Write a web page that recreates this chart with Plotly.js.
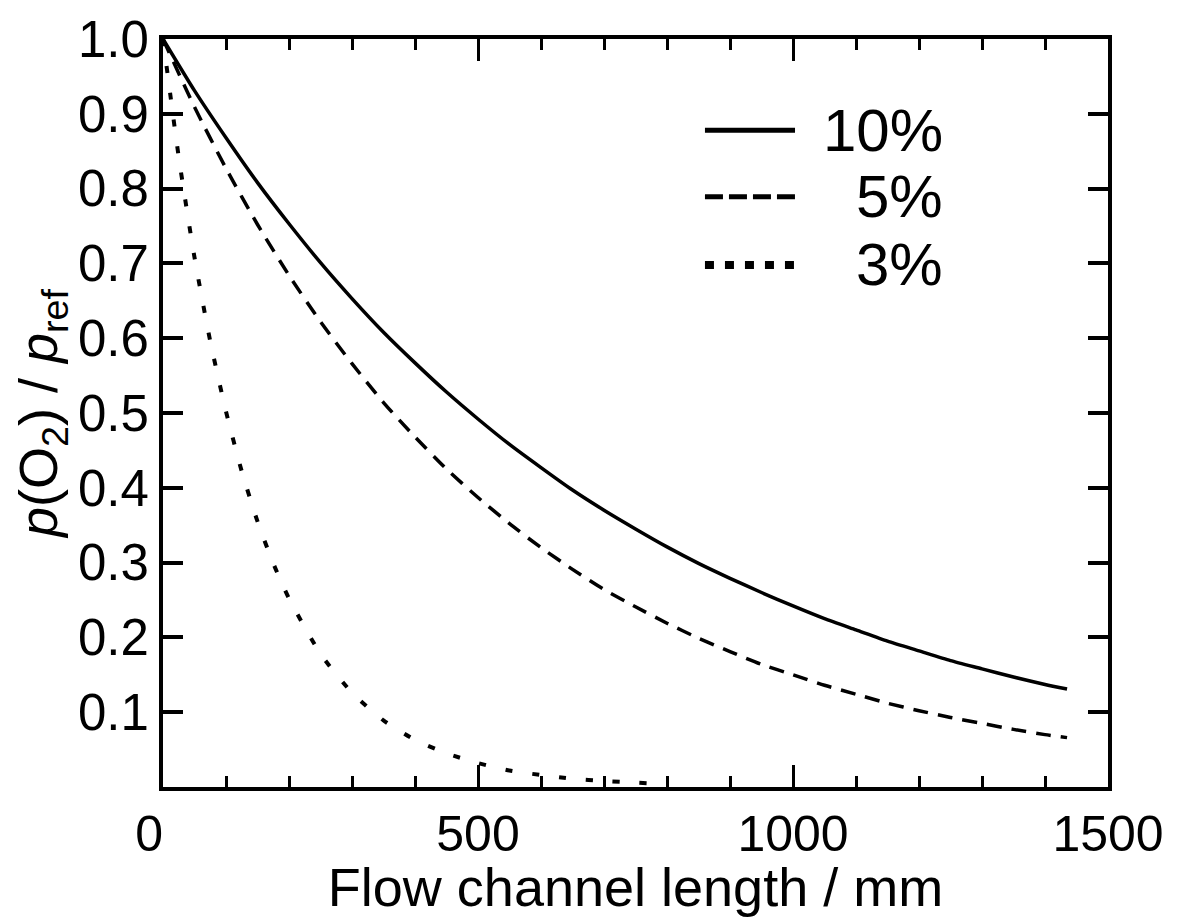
<!DOCTYPE html>
<html>
<head>
<meta charset="utf-8">
<script src="https://cdn.plot.ly/plotly-3.0.1.min.js"></script>
<style>
  html, body { margin: 0; padding: 0; background: #fff; }
  #chart { width: 1178px; height: 917px; }
</style>
</head>
<body>
<div id="chart"></div>
<script>
// Series names
const seriesNames = ['10%', '5%', '3%'];

// Flow channel length (mm) sample positions
const x10 = [0, 50, 100, 150, 200, 250, 300, 350, 400, 450, 500, 550, 600, 650, 700, 750, 800, 850, 900, 950, 1000, 1050, 1100, 1150, 1200, 1250, 1300, 1350, 1400, 1435];
const y10 = [1.000, 0.931, 0.868, 0.808, 0.753, 0.701, 0.653, 0.608, 0.567, 0.528, 0.492, 0.458, 0.427, 0.397, 0.370, 0.345, 0.321, 0.299, 0.279, 0.260, 0.242, 0.225, 0.210, 0.195, 0.182, 0.169, 0.158, 0.147, 0.137, 0.131];

const x5 = [0, 50, 100, 150, 200, 250, 300, 350, 400, 450, 500, 550, 600, 650, 700, 750, 800, 850, 900, 950, 1000, 1050, 1100, 1150, 1200, 1250, 1300, 1350, 1400, 1435];
const y5 = [1.000, 0.909, 0.827, 0.752, 0.684, 0.622, 0.566, 0.514, 0.468, 0.425, 0.387, 0.352, 0.320, 0.291, 0.264, 0.241, 0.219, 0.199, 0.181, 0.164, 0.150, 0.136, 0.124, 0.112, 0.102, 0.093, 0.085, 0.077, 0.070, 0.066];

const x3 = [0, 25, 50, 75, 100, 125, 150, 175, 200, 250, 300, 350, 400, 450, 500, 550, 600, 650, 700, 770];
const y3 = [1.000, 0.842, 0.708, 0.596, 0.502, 0.422, 0.355, 0.299, 0.252, 0.178, 0.126, 0.089, 0.063, 0.045, 0.032, 0.022, 0.016, 0.011, 0.008, 0.005];

// Axis ticks
const xTickVals = [0, 500, 1000, 1500];
const xTickText = ['0\u00a0\u00a0', '500', '1000', '1500'];
const yTickVals = [0.1, 0.2, 0.3, 0.4, 0.5, 0.6, 0.7, 0.8, 0.9, 1.0];
const yTickText = ['0.1', '0.2', '0.3', '0.4', '0.5', '0.6', '0.7', '0.8', '0.9', '1.0'];

const FONT = 'Liberation Sans, Arial, Helvetica, sans-serif';

const traces = [
  { x: x10, y: y10, name: seriesNames[0], mode: 'lines', line: { color: '#000', width: 3.5, dash: 'solid', shape: 'spline', smoothing: 0.6 } },
  { x: x5,  y: y5,  name: seriesNames[1], mode: 'lines', line: { color: '#000', width: 3.5, dash: '15px,10px', shape: 'spline', smoothing: 0.6 } },
  { x: x3,  y: y3,  name: seriesNames[2], mode: 'lines', line: { color: '#000', width: 4, dash: '7px,20px', shape: 'spline', smoothing: 0.6 } }
];

// Legend drawn as shapes + text (paper coordinates)
const legendRows = [
  { y: 0.878, dash: 'solid', w: 5 },
  { y: 0.789, dash: '18px,6px', w: 5 },
  { y: 0.698, dash: '9px,11px', w: 8 }
];
const shapes = legendRows.map(r => ({
  type: 'line', xref: 'paper', yref: 'paper',
  x0: 0.5735, x1: 0.6688, y0: r.y, y1: r.y,
  line: { color: '#000', width: r.w, dash: r.dash }
}));
const annotations = legendRows.map((r, i) => ({
  xref: 'paper', yref: 'paper', x: 0.8275, y: r.y,
  xanchor: 'right', yanchor: 'middle', showarrow: false,
  text: seriesNames[i], font: { family: FONT, size: 60, color: '#000' }
}));

const layout = {
  width: 1178, height: 917,
  margin: { l: 163, r: 70, t: 39, b: 130 },
  paper_bgcolor: '#fff', plot_bgcolor: '#fff',
  showlegend: false,
  font: { family: FONT, color: '#000' },
  xaxis: {
    range: [0, 1500],
    tickvals: xTickVals, ticktext: xTickText,
    ticks: 'inside', ticklen: 22, tickwidth: 3, tickcolor: '#000',
    minor: { dtick: 100, ticks: 'inside', ticklen: 11, tickwidth: 3, tickcolor: '#000', showgrid: false },
    showline: true, linewidth: 4, linecolor: '#000', mirror: 'ticks',
    showgrid: false, zeroline: false,
    tickfont: { family: FONT, size: 50, color: '#000' },
    title: { text: 'Flow channel length / mm', font: { family: FONT, size: 54, color: '#000' }, standoff: 18 }
  },
  yaxis: {
    range: [0, 1],
    tickvals: yTickVals, ticktext: yTickText,
    ticks: 'inside', ticklen: 20, tickwidth: 4, tickcolor: '#000',
    showline: true, linewidth: 4, linecolor: '#000', mirror: 'ticks',
    showgrid: false, zeroline: false,
    tickfont: { family: FONT, size: 51, color: '#000' },
    title: { text: '<i>p</i>(O<sub>2</sub>) / <i>p</i><sub>ref</sub>', font: { family: FONT, size: 54, color: '#000' }, standoff: 4 }
  },
  shapes: shapes,
  annotations: annotations
};

Plotly.newPlot('chart', traces, layout, { displayModeBar: false, staticPlot: true });
</script>
</body>
</html>
